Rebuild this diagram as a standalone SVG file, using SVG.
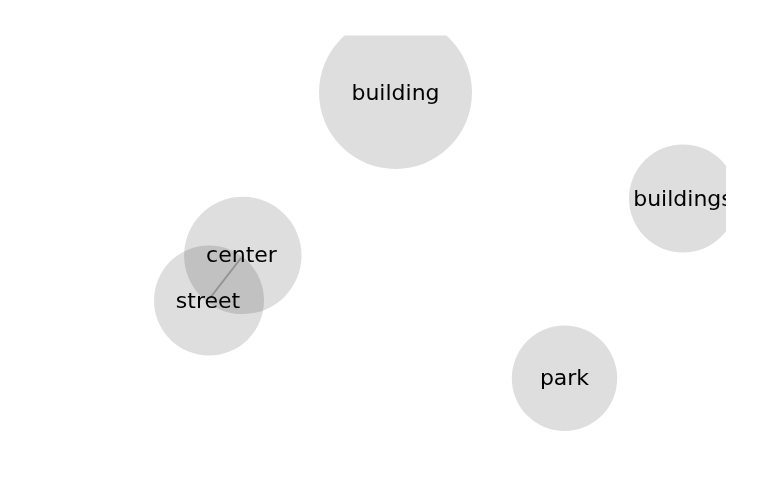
<svg xmlns="http://www.w3.org/2000/svg" width="769" height="500" viewBox="0 0 769 500">
<style>
.node circle{fill:#dedede;mix-blend-mode:multiply}
.node text{font-family:"DejaVu Sans",sans-serif;font-size:22px;fill:#000;text-anchor:middle}
.link{stroke:#999;stroke-width:2;stroke-opacity:0.6;mix-blend-mode:multiply}
</style>
<defs><clipPath id="clip"><rect x="0" y="35.5" width="726" height="464.5"/></clipPath></defs>
<rect width="769" height="500" fill="#fff"/>
<g clip-path="url(#clip)" style="isolation:isolate">
<g id="links"><line class="link" x1="241" y1="258" x2="210" y2="298"/></g>
<g id="node-building" class="node"><circle cx="395.5" cy="92.5" r="76.5"/><text x="395.5" y="100">building</text></g>
<g id="node-buildings" class="node"><circle cx="683" cy="198.5" r="54"/><text x="683" y="205.5">buildings</text></g>
<g id="node-center" class="node"><circle cx="242.8" cy="255.4" r="58.7"/><text x="241.5" y="262">center</text></g>
<g id="node-street" class="node"><circle cx="209" cy="300.5" r="55"/><text x="208" y="307.5">street</text></g>
<g id="node-park" class="node"><circle cx="564.5" cy="378.3" r="52.7"/><text x="564.5" y="385">park</text></g>
</g>
</svg>
